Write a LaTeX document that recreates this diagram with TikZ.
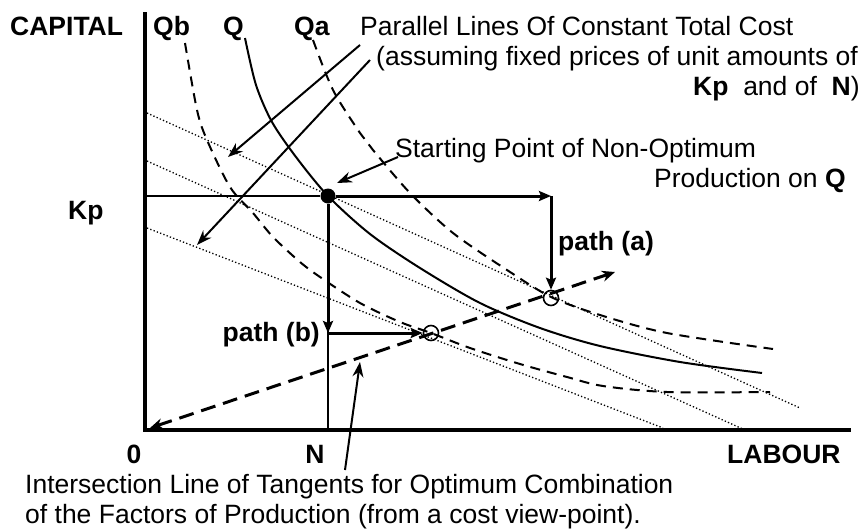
\documentclass[tikz,border=0pt]{standalone}
\usepackage{fontspec}
\setmainfont{Liberation Sans}
\usetikzlibrary{arrows.meta,positioning,calc}

\begin{document}
\begin{tikzpicture}[
  x=1pt, y=-1pt,
  every node/.style={font=\fontsize{26.5}{30}\selectfont, inner sep=0pt},
  lbl/.style={font=\fontsize{26.5}{30}\selectfont\bfseries, anchor=base west},
  note/.style={align=left, anchor=base west},
  axis/.style={line width=4pt},
  guide/.style={line width=1.3pt},
  isoq/.style={line width=2pt},
  isoqdash/.style={line width=2pt, dash pattern=on 10pt off 7pt},
  cost/.style={line width=1.3pt, dash pattern=on 1.3pt off 2.2pt},
  ray/.style={line width=3pt, dash pattern=on 15pt off 8pt, {Stealth[length=13pt,width=11pt]}-{Stealth[length=13pt,width=11pt]}},
  arr/.style={line width=2pt, -{Stealth[length=15pt,width=11pt]}},
  patharr/.style={line width=3pt, -{Stealth[length=12pt,width=10pt,inset=2pt]}},
  startdot/.style={circle, fill, minimum size=15pt},
  optpt/.style={circle, draw, line width=1.6pt, minimum size=15pt}
]
  \useasboundingbox (0,0) rectangle (863,528);

  \coordinate (origin) at (145,430);
  \coordinate (ytop) at (145,12);
  \coordinate (xend) at (851,430);
  \draw[axis] (ytop) -- (origin) -- (xend);

  \node[lbl] (capital) at (10,35) {CAPITAL};
  \node[lbl] (qb) at (153,35) {Qb};
  \node[lbl] (q) at (223,35) {Q};
  \node[lbl] (qa) at (294,35) {Qa};
  \node[lbl] (kp) at (68,219) {Kp};
  \node[lbl, anchor=base] (zero) at (134,463) {0};
  \node[lbl, anchor=base] (n) at (315,463) {N};
  \node[lbl] (labour) at (727,463) {LABOUR};
  \node[lbl] (patha) at (558,250) {path (a)};
  \node[lbl, anchor=base east] (pathb) at (320,341) {path (b)};

  \node[note] (costnote) at (360,95) {Parallel Lines Of Constant Total Cost\\\hspace*{16pt}(assuming fixed prices of unit amounts of\\\hspace*{333pt}\textbf{Kp}~ and of~ \textbf{N})};
  \node[note] (startnote) at (395,187) {Starting Point of Non-Optimum\\\hspace*{259pt}Production on \textbf{Q}};
  \node[note] (isectnote) at (25,523) {Intersection Line of Tangents for Optimum Combination\\of the Factors of Production (from a cost view-point).};

  \draw[cost] (147,113) -- (800,408);
  \draw[cost] (147,161) -- (745,430);
  \draw[cost] (147,228) -- (663,428);

  \draw[isoq] plot[smooth] coordinates {(245,38) (256,85) (272,122) (296,157) (328,196) (370,234) (420,268) (480,303) (540,328) (600,346) (680,362) (762,373)};
  \draw[isoqdash] plot[smooth] coordinates {(313,40) (333,90) (360,133) (373,150) (410,193) (453,233) (507,270) (551,297) (600,315) (667,333) (773,349)};
  \draw[isoqdash] plot[smooth] coordinates {(185,43) (197,110) (207,140) (230,187) (253,213) (273,237) (300,262) (320,277) (360,303) (400,322) (431,333) (470,348) (520,364) (567,377) (603,386) (667,392) (770,392)};

  \node[startdot] (start) at (328,196) {};
  \node[optpt] (opta) at (551,298) {};
  \node[optpt] (optb) at (431,333) {};

  \draw[guide] (origin |- start) -- (start);
  \draw[guide] (start) -- (start |- origin);

  \coordinate (turna) at (opta |- start);
  \coordinate (turnb) at (start |- optb);
  \draw[patharr] (start) -- (turna);
  \draw[patharr] (turna) -- (opta.north);
  \draw[patharr] (start) -- (turnb);
  \draw[patharr] (turnb) -- (optb.west);

  \coordinate (raytip) at (615,272);
  \coordinate (raybase) at (150,428);
  \draw[ray] (raybase) -- (raytip);

  \coordinate (costtail1) at (360,45);
  \coordinate (costtip1) at (228,157);
  \coordinate (costtail2) at (370,60);
  \coordinate (costtip2) at (197,245);
  \coordinate (starttail) at (398,157);
  \coordinate (starttip) at (337,183);
  \coordinate (isecttail) at (345,470);
  \coordinate (isecttip) at (360,362);
  \draw[arr] (costtail1) -- (costtip1);
  \draw[arr] (costtail2) -- (costtip2);
  \draw[arr] (starttail) -- (starttip);
  \draw[arr] (isecttail) -- (isecttip);
\end{tikzpicture}
\end{document}
